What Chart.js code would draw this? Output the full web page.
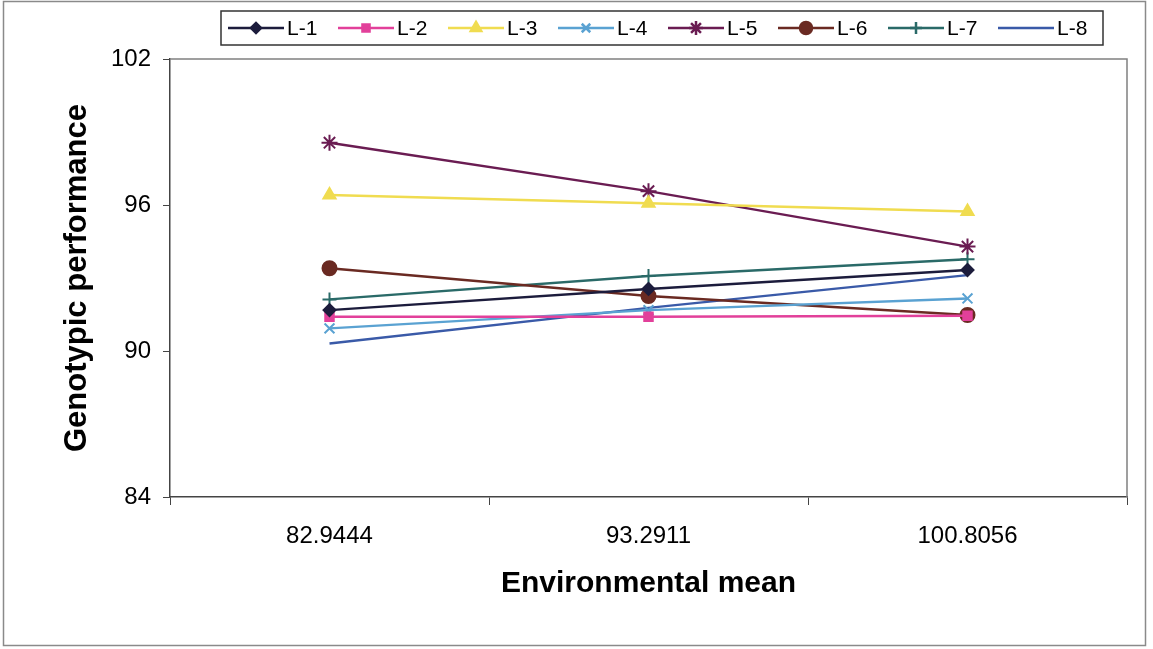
<!DOCTYPE html>
<html lang="en">
<head>
<meta charset="UTF-8">
<title>Genotypic performance</title>
<style>
  html, body { margin: 0; padding: 0; background: #fff; }
  #wrap { width: 1153px; height: 649px; position: relative; }
</style>
</head>
<body>
<div id="wrap"><canvas id="chart" width="1153" height="649"></canvas></div>
<script src="https://cdn.jsdelivr.net/npm/chart.js@4.4.1/dist/chart.umd.min.js"></script>
<script>
// environmental means (x categories)
var envMeans = ["82.9444", "93.2911", "100.8056"];

// genotype lines, values
var L1 = [91.68, 92.55, 93.33];
var L2 = [91.41, 91.41, 91.45];
var L3 = [96.41, 96.07, 95.73];
var L4 = [90.93, 91.68, 92.16];
var L5 = [98.56, 96.57, 94.29];
var L6 = [93.40, 92.26, 91.48];
var L7 = [92.12, 93.08, 93.77];
var L8 = [90.31, 91.77, 93.12];

var yTicks = [84, 90, 96, 102];

var series = [
  { label: "L-1", data: L1, color: "#1c1c3c", style: "rectRot", r: 6 },
  { label: "L-2", data: L2, color: "#e2409a", style: "rect", r: 6 },
  { label: "L-3", data: L3, color: "#f0dc50", style: "triangle", r: 7 },
  { label: "L-4", data: L4, color: "#5aa2d2", style: "crossRot", r: 7 },
  { label: "L-5", data: L5, color: "#6a1c52", style: "star", r: 8 },
  { label: "L-6", data: L6, color: "#6a2a22", style: "circle", r: 7 },
  { label: "L-7", data: L7, color: "#2a6a68", style: "cross", r: 7 },
  { label: "L-8", data: L8, color: "#3a5aa8", style: false, r: 0 }
];

var FONT = "'Liberation Sans', Arial, sans-serif";

var frames = {
  id: "frames",
  beforeDraw: function (chart) {
    var c = chart.ctx;
    c.save();
    c.fillStyle = "#fff";
    c.fillRect(0, 0, chart.width, chart.height);
    c.restore();
  },
  afterDraw: function (chart) {
    var c = chart.ctx, a = chart.chartArea;
    c.save();
    // outer frame
    c.strokeStyle = "#8a8a8a";
    c.lineWidth = 1.5;
    c.strokeRect(3.5, 1.5, 1142, 644);
    // plot area top/right
    c.strokeStyle = "#808080";
    c.lineWidth = 1.5;
    c.beginPath();
    c.moveTo(a.left, a.top);
    c.lineTo(a.right, a.top);
    c.lineTo(a.right, a.bottom);
    c.stroke();

    // legend box
    var bx = 221, by = 11, bw = 882, bh = 34;
    c.strokeStyle = "#333";
    c.lineWidth = 1.5;
    c.strokeRect(bx, by, bw, bh);
    var cy = by + bh / 2;
    c.font = "21px " + FONT;
    c.textBaseline = "middle";
    c.textAlign = "left";
    series.forEach(function (s, i) {
      var x0 = 228 + i * 110;
      c.strokeStyle = s.color;
      c.lineWidth = 2.5;
      c.beginPath();
      c.moveTo(x0, cy);
      c.lineTo(x0 + 56, cy);
      c.stroke();
      if (s.style) {
        c.fillStyle = s.color;
        c.strokeStyle = s.color;
        Chart.helpers.drawPoint(c, { pointStyle: s.style, radius: s.r - 1, rotation: 0, borderWidth: 2 }, x0 + 28, cy);
      }
      c.fillStyle = "#000";
      c.fillText(s.label, x0 + 59, cy + 1);
    });
    c.restore();
  }
};

new Chart(document.getElementById("chart"), {
  type: "line",
  data: {
    labels: envMeans,
    datasets: series.map(function (s) {
      return {
        label: s.label,
        data: s.data,
        borderColor: s.color,
        backgroundColor: s.color,
        borderWidth: 2.4,
        pointStyle: s.style,
        pointRadius: s.r,
        pointHoverRadius: s.r,
        pointBorderWidth: 2,
        fill: false,
        tension: 0
      };
    })
  },
  options: {
    responsive: false,
    animation: false,
    layout: { padding: { top: 59, right: 26, left: 0, bottom: 0 } },
    plugins: { legend: { display: false }, tooltip: { enabled: false } },
    scales: {
      x: {
        offset: true,
        afterFit: function (s) { s.height = 152; },
        grid: { offset: true, drawOnChartArea: false, tickLength: 8, color: "#444" },
        border: { color: "#444", width: 1.5 },
        ticks: { color: "#000", font: { family: FONT, size: 24 }, padding: 17, maxRotation: 0 },
        title: {
          display: true, text: "Environmental mean", color: "#000",
          font: { family: FONT, size: 30, weight: "bold" }, padding: { top: 0, bottom: 47 }
        }
      },
      y: {
        min: yTicks[0],
        max: yTicks[yTicks.length - 1],
        afterFit: function (s) { s.width = 170; },
        afterBuildTicks: function (s) { s.ticks = yTicks.map(function (v) { return { value: v }; }); },
        grid: { drawOnChartArea: false, tickLength: 7, color: "#444" },
        border: { color: "#444", width: 1.5 },
        ticks: { color: "#000", font: { family: FONT, size: 24 }, padding: 12 },
        title: {
          display: true, text: "Genotypic performance", color: "#000",
          font: { family: FONT, size: 31, weight: "bold" }, padding: { top: 59, bottom: 0 }
        }
      }
    }
  },
  plugins: [frames]
});
</script>
</body>
</html>
